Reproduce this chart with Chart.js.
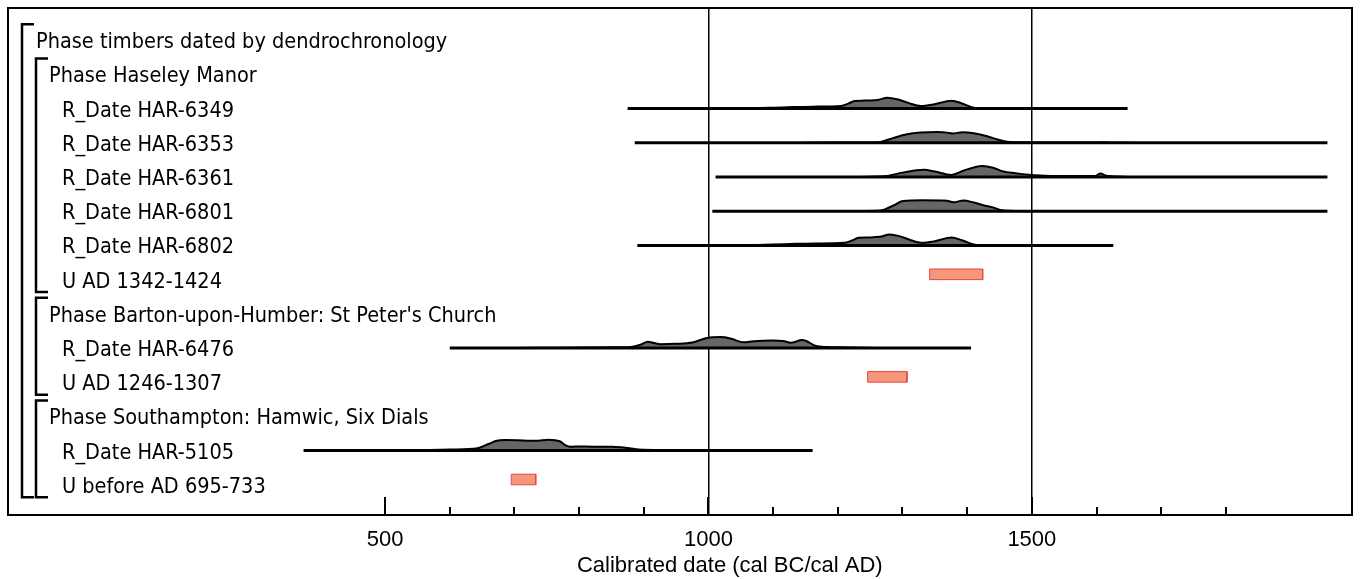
<!DOCTYPE html>
<html>
<head>
<meta charset="utf-8">
<script src="https://cdn.jsdelivr.net/npm/chart.js@4.4.0/dist/chart.umd.min.js"></script>
<style>
  html, body { margin: 0; padding: 0; background: #fff; }
  #wrap { width: 1360px; height: 579px; }
</style>
</head>
<body>
<div id="wrap"><canvas id="chart" width="1360" height="579"></canvas></div>
<script>
// rows, top to bottom
const rowLabels = [
    "Phase timbers dated by dendrochronology",
    "Phase Haseley Manor",
    "R_Date HAR-6349",
    "R_Date HAR-6353",
    "R_Date HAR-6361",
    "R_Date HAR-6801",
    "R_Date HAR-6802",
    "U AD 1342-1424",
    "Phase Barton-upon-Humber: St Peter's Church",
    "R_Date HAR-6476",
    "U AD 1246-1307",
    "Phase Southampton: Hamwic, Six Dials",
    "R_Date HAR-5105",
    "U before AD 695-733"
];
const rowLevels = [0, 1, 2, 2, 2, 2, 2, 2, 1, 2, 2, 1, 2, 2];

// groups drawn as brackets [first row, last row]
const outerGroup = [0, 13];
const phaseGroups = [[1, 7], [8, 10], [11, 13]];

const xTickLabels = [500, 1000, 1500];
const axisTitle = "Calibrated date (cal BC/cal AD)";

// calibrated likelihoods: [year AD, % of peak]
const har6349 = [[1000, 0], [1050, 1], [1100, 8], [1130, 14], [1162, 18], [1205, 24], [1216, 45], [1226, 70], [1240, 73],
    [1261, 78], [1277, 100], [1292, 85], [1309, 52], [1328, 24], [1348, 38], [1376, 72], [1392, 47], [1410, 8], [1425, 0]];
const har6353 = [[1150, 0], [1200, 2], [1240, 3], [1266, 8], [1286, 45], [1307, 78], [1328, 93], [1354, 98], [1369, 93],
    [1377, 84], [1393, 97], [1408, 90], [1431, 60], [1447, 30], [1462, 10], [1482, 4], [1550, 2], [1600, 2], [1610, 4],
    [1620, 1], [1650, 0]];
const har6361 = [[1220, 0], [1260, 4], [1277, 10], [1300, 40], [1333, 66], [1350, 50], [1375, 19], [1395, 60],
    [1412, 90], [1423, 100], [1440, 85], [1456, 50], [1475, 35], [1498, 19], [1530, 10], [1570, 8], [1598, 10],
    [1606, 31], [1615, 12], [1641, 3], [1680, 0]];
const har6801 = [[1200, 0], [1230, 2], [1266, 6], [1285, 50], [1301, 93], [1330, 100], [1360, 98], [1369, 95],
    [1379, 82], [1394, 98], [1410, 80], [1425, 55], [1441, 33], [1451, 12], [1465, 3], [1500, 0]];
const har6802 = [[1000, 0], [1050, 1], [1100, 8], [1135, 14], [1165, 18], [1210, 24], [1222, 45], [1232, 70], [1248, 73],
    [1265, 78], [1280, 100], [1295, 85], [1311, 52], [1330, 24], [1350, 38], [1376, 72], [1392, 47], [1410, 8], [1425, 0]];
const har6476 = [[700, 0], [771, 3], [850, 6], [880, 10], [895, 30], [906, 58], [916, 45], [926, 34], [950, 38],
    [975, 50], [998, 92], [1019, 100], [1035, 85], [1054, 52], [1070, 62], [1100, 68], [1115, 65], [1127, 48],
    [1145, 72], [1168, 16], [1190, 8], [1219, 5], [1260, 0]];
const har5105 = [[450, 0], [550, 3], [601, 10], [643, 22], [660, 60], [671, 88], [685, 97], [705, 95], [725, 90],
    [733, 90], [753, 100], [770, 85], [780, 45], [788, 35], [802, 38], [820, 36], [850, 35], [865, 30], [878, 22],
    [892, 9], [940, 4], [980, 0]];

const rDateRows = [2, 3, 4, 5, 6, 9, 12];
const rDateCurves = [har6349, har6353, har6361, har6801, har6802, har6476, har5105];
// extent of the plotted range line [from, to]
const rDateRanges = [[875, 1648], [886, 1957], [1011, 1957], [1006, 1957], [890, 1626], [600, 1406], [374, 1161]];

// uniform (dendro) ranges
const uRows = [7, 10, 13];
const uRanges = [[1342, 1424], [1246, 1307], [695, 733]];

const PEAK = 0.32;   // curve height in rows
const LABEL_FONT = "21.5px 'DejaVu Sans Condensed', 'DejaVu Sans', sans-serif";
const AXIS_FONT = "'Liberation Sans', Arial, sans-serif";

const datasets = [];

rDateCurves.forEach((curve, i) => {
    const row = rDateRows[i];
    datasets.push({
        data: rDateRanges[i].map(x => ({ x: x, y: row })),
        borderColor: "#000",
        borderWidth: 3,
        pointRadius: 0,
        fill: false
    });
    datasets.push({
        data: curve.map(([x, d]) => ({ x: x, y: row - d / 100 * PEAK })),
        borderColor: "#000",
        borderWidth: 2,
        backgroundColor: "#666666",
        fill: { value: row },
        pointRadius: 0,
        cubicInterpolationMode: "monotone"
    });
});

uRanges.forEach(([from, to], i) => {
    const row = uRows[i];
    const top = row - 0.31;
    datasets.push({
        data: [{ x: from, y: top }, { x: to, y: top }, { x: to, y: row }, { x: from, y: row }, { x: from, y: top }],
        borderColor: "rgb(232, 70, 70)",
        borderWidth: 1,
        pointRadius: 0,
        fill: false
    });
    datasets.push({
        data: [{ x: from, y: top }, { x: to, y: top }],
        borderWidth: 0,
        backgroundColor: "rgb(244, 151, 122)",
        fill: { value: row },
        pointRadius: 0
    });
});

const decor = {
    id: "decor",
    afterDraw(chart) {
        const ctx = chart.ctx;
        const area = chart.chartArea;
        const xs = chart.scales.x;
        const ys = chart.scales.y;
        ctx.save();

        // frame
        ctx.strokeStyle = "#000";
        ctx.lineWidth = 2;
        ctx.strokeRect(area.left, area.top, area.right - area.left, area.bottom - area.top);

        // inward tick marks
        ctx.lineWidth = 2;
        xs.ticks.forEach(t => {
            if (t.value < 500 || t.value % 100 !== 0) return;
            const px = Math.round(xs.getPixelForValue(t.value));
            const len = t.value % 500 === 0 ? 18 : 8;
            ctx.beginPath();
            ctx.moveTo(px, area.bottom);
            ctx.lineTo(px, area.bottom - len);
            ctx.stroke();
        });

        // brackets
        const bracket = (group, bx) => {
            const y0 = ys.getPixelForValue(group[0]) - 16;
            const y1 = ys.getPixelForValue(group[1]) + 12.5;
            ctx.lineWidth = 2.5;
            ctx.beginPath();
            ctx.moveTo(bx + 12, y0);
            ctx.lineTo(bx, y0);
            ctx.lineTo(bx, y1);
            ctx.lineTo(bx + 12, y1);
            ctx.stroke();
        };
        bracket(outerGroup, 22);
        phaseGroups.forEach(g => bracket(g, 36));

        // row labels
        ctx.fillStyle = "#000";
        ctx.font = LABEL_FONT;
        ctx.textAlign = "left";
        ctx.textBaseline = "alphabetic";
        const indent = [36, 49, 62];
        rowLabels.forEach((label, i) => {
            ctx.fillText(label, indent[rowLevels[i]], ys.getPixelForValue(i) + 8);
        });

        // axis title
        ctx.font = "22px " + AXIS_FONT;
        ctx.textAlign = "center";
        ctx.fillText(axisTitle, xs.getPixelForValue(1033), 572);
        ctx.restore();
    }
};

new Chart(document.getElementById("chart"), {
    type: "line",
    data: { datasets: datasets },
    options: {
        responsive: false,
        animation: false,
        events: [],
        layout: { autoPadding: false, padding: { left: 8, right: 8, top: 8, bottom: 0 } },
        plugins: {
            legend: { display: false },
            tooltip: { enabled: false }
        },
        scales: {
            x: {
                type: "linear",
                min: -83,
                max: 1995,
                z: 1,
                afterFit: (scale) => {
                    scale.height = 64;
                    scale.paddingLeft = 0;
                    scale.paddingRight = 0;
                },
                border: { display: false },
                grid: {
                    drawTicks: false,
                    color: (c) => (c.tick && (c.tick.value === 1000 || c.tick.value === 1500)) ? "#000" : "rgba(0,0,0,0)",
                    lineWidth: 1.5
                },
                ticks: {
                    stepSize: 100,
                    autoSkip: false,
                    maxRotation: 0,
                    padding: 12,
                    color: "#000",
                    font: { family: AXIS_FONT, size: 22 },
                    callback: (v) => xTickLabels.includes(v) ? String(v) : ""
                }
            },
            y: {
                type: "linear",
                display: false,
                reverse: true,
                min: -0.9415,
                max: 13.883
            }
        }
    },
    plugins: [decor]
});
</script>
</body>
</html>
